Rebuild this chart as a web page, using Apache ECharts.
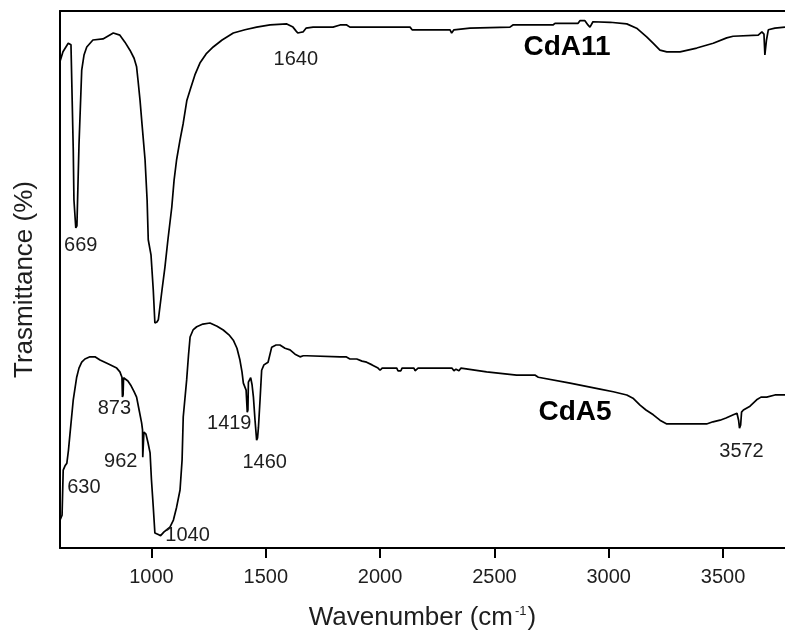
<!DOCTYPE html>
<html>
<head>
<meta charset="utf-8">
<title>FTIR spectra CdA11 / CdA5</title>
<script src="https://cdn.jsdelivr.net/npm/echarts@6/dist/echarts.min.js"></script>
<style>
  html, body { margin: 0; padding: 0; background: #ffffff; }
  #chart { width: 785px; height: 639px; }
</style>
</head>
<body>
<div id="chart"></div>
<script>
// Wavenumber ticks shown on the bottom axis (cm-1)
const tickValues = [1000, 1500, 2000, 2500, 3000, 3500];

// CdA11 spectrum (upper trace), transmittance in arbitrary % scale
const cda11Wavenumber = [
  600, 613, 636, 648, 658, 661, 669, 674, 683, 695, 705, 717, 744, 788, 833, 862,
  884, 906, 924, 935, 941, 950, 959, 972, 981, 986, 998, 1008, 1015, 1024, 1030, 1046,
  1059, 1072, 1089, 1099, 1110, 1125, 1139, 1155, 1169, 1190, 1212, 1239, 1270, 1309, 1358, 1409,
  1460, 1519, 1592, 1619, 1632, 1640, 1650, 1663, 1676, 1707, 1794, 1825, 1854, 1868, 2131, 2140,
  2306, 2313, 2323, 2393, 2568, 2581, 2756, 2765, 2866, 2874, 2896, 2909, 2918, 2931, 3006, 3079,
  3122, 3166, 3194, 3224, 3254, 3312, 3385, 3457, 3516, 3544, 3654, 3670, 3679, 3683, 3690, 3698,
  3727, 3771
];
const cda11Transmittance = [
  90.6, 92.4, 94.0, 93.7, 74.1, 64.8, 59.6, 60.0, 75.0, 89.0, 91.8, 93.3, 94.6, 94.8, 95.9, 95.5,
  94.2, 92.7, 91.2, 89.6, 87.2, 83.4, 78.8, 72.3, 64.8, 57.4, 54.6, 48.0, 41.9, 42.1, 42.5, 48.0,
  52.3, 57.4, 63.5, 68.5, 72.3, 76.0, 79.1, 83.4, 85.3, 88.1, 90.3, 92.0, 93.3, 94.6, 95.9, 96.5,
  97.0, 97.4, 97.6, 97.0, 96.3, 95.9, 96.0, 96.1, 96.8, 97.0, 97.0, 97.4, 97.4, 97.0, 97.0, 96.5,
  96.5, 95.9, 96.5, 96.8, 97.0, 97.4, 97.4, 97.7, 97.7, 98.2, 98.2, 97.4, 97.0, 98.0, 97.9, 97.6,
  96.8, 95.2, 94.0, 92.7, 92.4, 92.4, 93.1, 94.0, 95.0, 95.3, 95.5, 96.1, 95.7, 91.8, 94.6, 96.5,
  96.8, 97.0
];

// CdA5 spectrum (lower trace)
const cda5Wavenumber = [
  600, 609, 614, 622, 630, 637, 644, 658, 673, 683, 695, 709, 731, 753, 775, 810,
  848, 862, 871, 873, 876, 878, 884, 897, 911, 924, 935, 946, 957, 961, 962, 965,
  967, 976, 985, 994, 1000, 1008, 1015, 1030, 1040, 1055, 1067, 1081, 1096, 1110, 1125, 1134,
  1139, 1154, 1162, 1169, 1182, 1198, 1225, 1256, 1287, 1314, 1339, 1358, 1374, 1387, 1396, 1402,
  1414, 1419, 1422, 1424, 1434, 1440, 1446, 1453, 1460, 1464, 1468, 1475, 1482, 1492, 1510, 1526,
  1545, 1562, 1584, 1606, 1628, 1650, 1664, 1679, 1825, 1851, 1868, 1898, 1921, 1941, 1965, 1991,
  2000, 2009, 2073, 2078, 2091, 2096, 2148, 2153, 2161, 2166, 2314, 2323, 2332, 2345, 2354, 2466,
  2597, 2677, 2692, 2831, 2962, 3020, 3079, 3106, 3137, 3163, 3195, 3224, 3254, 3428, 3456, 3487,
  3513, 3545, 3561, 3568, 3572, 3577, 3581, 3589, 3618, 3647, 3666, 3691, 3727, 3771
];
const cda5Transmittance = [
  5.2, 6.1, 14.5, 15.3, 15.8, 18.2, 21.4, 27.6, 31.8, 33.5, 34.6, 35.2, 35.6, 35.6, 35.0, 34.3,
  33.5, 32.8, 31.8, 28.1, 28.5, 31.7, 31.7, 31.1, 30.2, 29.1, 28.1, 25.7, 23.3, 22.0, 16.9, 16.9,
  21.6, 21.2, 19.6, 17.7, 12.7, 7.6, 2.8, 2.5, 2.3, 3.0, 3.4, 3.9, 5.2, 7.6, 10.8, 16.4,
  24.4, 31.3, 35.9, 39.3, 40.6, 41.2, 41.7, 41.9, 41.3, 40.6, 39.7, 38.7, 37.2, 35.0, 32.8, 30.7,
  29.4, 25.3, 25.7, 30.9, 31.7, 30.4, 28.1, 23.8, 20.1, 20.5, 22.5, 27.6, 33.1, 34.1, 34.6, 37.4,
  37.8, 37.8, 37.2, 36.9, 36.1, 35.6, 35.8, 35.8, 35.6, 35.6, 35.2, 35.2, 34.8, 34.6, 34.1, 33.5,
  33.1, 33.5, 33.5, 33.0, 33.0, 33.5, 33.5, 33.0, 33.0, 33.5, 33.5, 33.0, 33.3, 33.0, 33.5, 32.8,
  32.2, 32.2, 31.8, 30.7, 29.6, 29.1, 28.5, 27.9, 26.6, 25.7, 24.8, 23.8, 23.1, 23.1, 23.5, 23.8,
  24.2, 24.8, 25.1, 23.8, 22.3, 22.9, 25.3, 25.7, 26.4, 27.6, 28.1, 28.1, 28.5, 28.5
];

// Assigned absorption bands (cm-1)
const cda11Peaks = [669, 1640];
const cda5Peaks = [630, 873, 962, 1040, 1419, 1460, 3572];

// Pixel offsets of each band label from its point on the trace
const peakLabelOffset = {
  669: [5, 18], 1640: [-2, 26],
  630: [17, 24], 873: [-8, 11], 962: [-22, 4], 1040: [27, 0],
  1419: [-18, 11], 1460: [8, 22], 3572: [2, 23]
};

const FONT = 'Arial, "Liberation Sans", Helvetica, sans-serif';
const TEXT = '#1e1e1e';

function pairs(xs, ys) {
  return xs.map((x, i) => [x, ys[i]]);
}

function valueAt(xs, ys, x) {
  let best = 0;
  for (let i = 1; i < xs.length; i++) {
    if (Math.abs(xs[i] - x) < Math.abs(xs[best] - x)) best = i;
  }
  return ys[best];
}

function peakMarks(peaks, xs, ys) {
  return peaks.map(p => ({
    coord: [p, valueAt(xs, ys, p)],
    value: p,
    label: { offset: peakLabelOffset[p] }
  }));
}

const markPointStyle = {
  symbol: 'circle',
  symbolSize: 1,
  itemStyle: { color: 'rgba(0,0,0,0)' },
  label: {
    show: true,
    position: 'inside',
    formatter: p => String(p.value),
    fontFamily: FONT,
    fontSize: 20,
    color: TEXT
  }
};

const chart = echarts.init(document.getElementById('chart'), null, { renderer: 'canvas' });

chart.setOption({
  animation: false,
  backgroundColor: '#ffffff',
  grid: { left: 60, right: 0, top: 11, bottom: 91, containLabel: false },
  xAxis: [
    {
      type: 'value',
      position: 'bottom',
      min: 600,
      max: 3771,
      name: '{t|Wavenumber (cm}{s|-1}{t|)}',
      nameLocation: 'middle',
      nameGap: 57,
      nameTextStyle: {
        rich: {
          t: { fontFamily: FONT, fontSize: 26, color: TEXT, lineHeight: 26 },
          s: { fontFamily: FONT, fontSize: 13, color: TEXT, verticalAlign: 'top', lineHeight: 26, padding: [0, 1, 10, 2] }
        }
      },
      axisLine: { show: true, onZero: false, lineStyle: { color: '#000', width: 2 } },
      axisTick: { show: true, inside: false, length: 10, customValues: tickValues, lineStyle: { color: '#000', width: 2 } },
      axisLabel: {
        show: true,
        customValues: tickValues,
        formatter: v => String(Math.round(v)),
        margin: 19,
        fontFamily: FONT,
        fontSize: 20,
        color: TEXT
      },
      splitLine: { show: false }
    },
    {
      type: 'value',
      position: 'top',
      min: 600,
      max: 3771,
      axisLine: { show: true, onZero: false, lineStyle: { color: '#000', width: 2 } },
      axisTick: { show: false },
      axisLabel: { show: false },
      splitLine: { show: false }
    }
  ],
  yAxis: {
    type: 'value',
    min: 0,
    max: 100,
    name: 'Trasmittance (%)',
    nameLocation: 'middle',
    nameRotate: 90,
    nameGap: 22,
    nameTextStyle: { fontFamily: FONT, fontSize: 26, color: TEXT },
    axisLine: { show: true, onZero: false, lineStyle: { color: '#000', width: 2 } },
    axisTick: { show: false },
    axisLabel: { show: false },
    splitLine: { show: false }
  },
  series: [
    {
      name: 'CdA11',
      type: 'line',
      xAxisIndex: 0,
      data: pairs(cda11Wavenumber, cda11Transmittance),
      showSymbol: false,
      lineStyle: { color: '#000', width: 1.7 },
      markPoint: Object.assign({ data: peakMarks(cda11Peaks, cda11Wavenumber, cda11Transmittance) }, markPointStyle)
    },
    {
      name: 'CdA5',
      type: 'line',
      xAxisIndex: 0,
      data: pairs(cda5Wavenumber, cda5Transmittance),
      showSymbol: false,
      lineStyle: { color: '#000', width: 1.7 },
      markPoint: Object.assign({ data: peakMarks(cda5Peaks, cda5Wavenumber, cda5Transmittance) }, markPointStyle)
    }
  ],
  graphic: [
    {
      type: 'text',
      x: 567, y: 47,
      style: { text: 'CdA11', font: 'bold 28px ' + FONT, fill: '#000', textAlign: 'center', textVerticalAlign: 'middle' }
    },
    {
      type: 'text',
      x: 575, y: 412,
      style: { text: 'CdA5', font: 'bold 28px ' + FONT, fill: '#000', textAlign: 'center', textVerticalAlign: 'middle' }
    }
  ]
});
</script>
</body>
</html>
